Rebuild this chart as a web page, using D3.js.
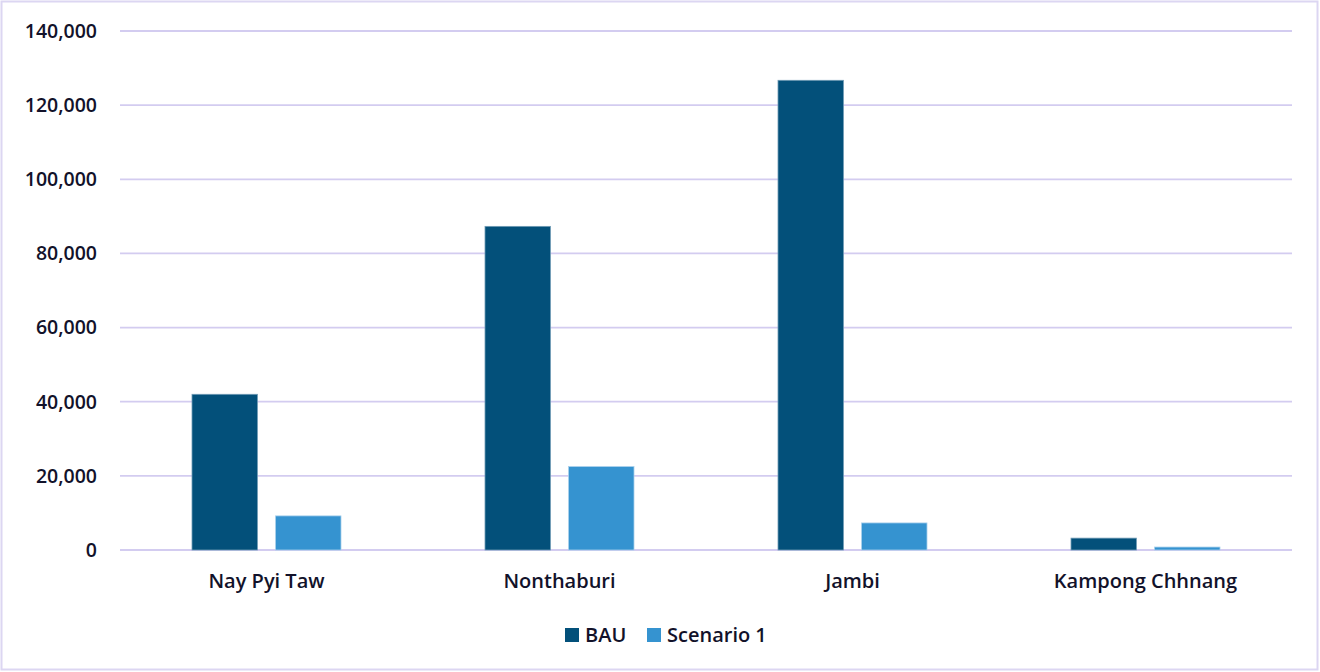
<!DOCTYPE html>
<html>
<head>
<meta charset="utf-8">
<script src="https://cdn.jsdelivr.net/npm/d3@7.9.0/dist/d3.min.js"></script>
<style>
  body { margin: 0; background: #fff; }
  text { font-family: "Open Sans", sans-serif; font-weight: 600; fill: #12122a; }
</style>
</head>
<body>
<svg width="1320" height="672"></svg>
<script>
// data
const cities = ['Nay Pyi Taw', 'Nonthaburi', 'Jambi', 'Kampong Chhnang'];
const series = ['BAU', 'Scenario 1'];
const bau = [42000, 87300, 126700, 3200];
const scenario1 = [9200, 22500, 7300, 800];
const yTicks = [0, 20000, 40000, 60000, 80000, 100000, 120000, 140000];

const colors = { 'BAU': '#03507a', 'Scenario 1': '#3593d0' };
const strokes = { 'BAU': '#6f9bb5', 'Scenario 1': '#a9d0ec' };

const svg = d3.select('svg');

// outer frame
svg.append('rect')
  .attr('x', 1.5).attr('y', 1.5)
  .attr('width', 1316).attr('height', 668)
  .attr('fill', 'none').attr('stroke', '#dcd6f2').attr('stroke-width', 2);

const plotLeft = 120, plotRight = 1292, plotTop = 31, plotBottom = 550;

const x0 = d3.scaleBand().domain(cities).range([plotLeft, plotRight]).padding(0);
const x1 = d3.scaleBand().domain(series).range([72, 221]).paddingInner(0.217);
const y = d3.scaleLinear().domain([0, 140000]).range([plotBottom, plotTop]);

// gridlines + y labels
const fmt = d3.format(',');
const yAxis = svg.append('g');
yAxis.selectAll('line')
  .data(yTicks)
  .join('line')
  .attr('x1', plotLeft).attr('x2', plotRight)
  .attr('y1', (d) => y(d)).attr('y2', (d) => y(d))
  .attr('stroke', '#d3ccf0').attr('stroke-width', 1.8);
yAxis.selectAll('text')
  .data(yTicks)
  .join('text')
  .attr('x', 97).attr('y', (d) => y(d))
  .attr('dy', '0.35em')
  .attr('text-anchor', 'end')
  .attr('font-size', 19.5)
  .text((d) => fmt(d));

// bars
const rows = cities.map((c, i) => ({ city: c, values: [
  { key: 'BAU', value: bau[i] },
  { key: 'Scenario 1', value: scenario1[i] }
] }));

const groups = svg.append('g').selectAll('g')
  .data(rows)
  .join('g')
  .attr('transform', (d) => `translate(${x0(d.city)},0)`);

groups.selectAll('rect')
  .data((d) => d.values)
  .join('rect')
  .attr('x', (d) => x1(d.key))
  .attr('y', (d) => y(d.value))
  .attr('width', x1.bandwidth())
  .attr('height', (d) => y(0) - y(d.value))
  .attr('fill', (d) => colors[d.key])
  .attr('stroke', (d) => strokes[d.key])
  .attr('stroke-width', 0.8);

// category labels
svg.append('g').selectAll('text')
  .data(cities)
  .join('text')
  .attr('x', (d) => x0(d) + x0.bandwidth() / 2)
  .attr('y', 588)
  .attr('text-anchor', 'middle')
  .attr('font-size', 20)
  .text((d) => d);

// legend
const legendPos = [565, 647];
const legend = svg.append('g').selectAll('g')
  .data(series)
  .join('g')
  .attr('transform', (d, i) => `translate(${legendPos[i]},628)`);
legend.append('rect')
  .attr('width', 14).attr('height', 14)
  .attr('fill', (d) => colors[d]);
legend.append('text')
  .attr('x', 20).attr('y', 14)
  .attr('font-size', 20)
  .text((d) => d);
</script>
</body>
</html>
